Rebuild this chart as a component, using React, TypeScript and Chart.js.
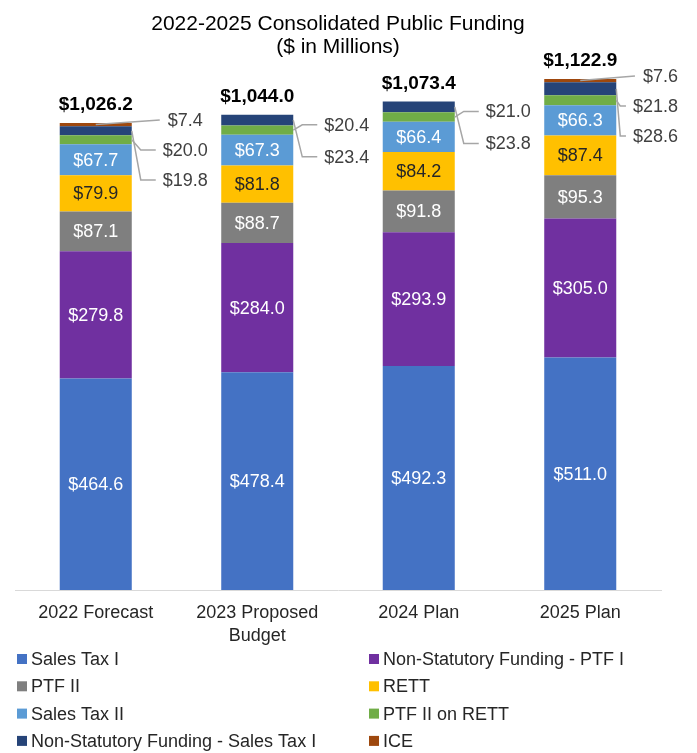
import React, { useEffect, useRef } from "react";
import { Chart, registerables } from "chart.js";

Chart.register(...registerables);

const categories: string[][] = [["2022 Forecast"], ["2023 Proposed", "Budget"], ["2024 Plan"], ["2025 Plan"]];
const seriesNames = [
  "Sales Tax I",
  "Non-Statutory Funding - PTF I",
  "PTF II",
  "RETT",
  "Sales Tax II",
  "PTF II on RETT",
  "Non-Statutory Funding - Sales Tax I",
  "ICE",
];
const seriesColors = ["#4472C4", "#7030A0", "#7F7F7F", "#FFC000", "#5B9BD5", "#70AD47", "#264478", "#9E480E"];
const salesTaxI = [464.6, 478.4, 492.3, 511.0];
const nonStatPTFI = [279.8, 284.0, 293.9, 305.0];
const ptfII = [87.1, 88.7, 91.8, 95.3];
const rett = [79.9, 81.8, 84.2, 87.4];
const salesTaxII = [67.7, 67.3, 66.4, 66.3];
const ptfIIonRETT = [20.0, 20.4, 21.0, 21.8];
const nonStatSalesTaxI = [19.8, 23.4, 23.8, 28.6];
const ice = [7.4, 0, 0, 7.6];
const totals = [1026.2, 1044.0, 1073.4, 1122.9];

const seriesValues = [salesTaxI, nonStatPTFI, ptfII, rett, salesTaxII, ptfIIonRETT, nonStatSalesTaxI, ice];
const insideLabelColors: Record<number, string> = { 0: "#ffffff", 1: "#ffffff", 2: "#ffffff", 3: "#262626", 4: "#ffffff" };
const outsideOrder = [7, 5, 6];

const FONT = "'Liberation Sans', Arial, sans-serif";
const CANVAS_W = 681;
const CANVAS_H = 745;

const labelPlugin = {
  id: "segLabels",
  afterDatasetsDraw(chart: any) {
    const ctx: CanvasRenderingContext2D = chart.ctx;
    const n = chart.data.labels.length;
    ctx.save();
    for (let i = 0; i < n; i++) {
      Object.keys(insideLabelColors).forEach((k) => {
        const d = Number(k);
        const el: any = chart.getDatasetMeta(d).data[i];
        const v = chart.data.datasets[d].data[i];
        if (!el || !v) return;
        ctx.font = `18px ${FONT}`;
        ctx.fillStyle = insideLabelColors[d];
        ctx.textAlign = "center";
        ctx.textBaseline = "middle";
        ctx.fillText("$" + Number(v).toFixed(1), el.x, (el.y + el.base) / 2 + 1);
      });
      let topY = Infinity;
      let cx = 0;
      let right = 0;
      chart.data.datasets.forEach((ds: any, d: number) => {
        const el: any = chart.getDatasetMeta(d).data[i];
        if (el && ds.data[i] > 0 && el.y < topY) {
          topY = el.y;
          cx = el.x;
          right = el.x + el.width / 2;
        }
      });
      ctx.font = `bold 19px ${FONT}`;
      ctx.fillStyle = "#000000";
      ctx.textAlign = "center";
      ctx.textBaseline = "middle";
      ctx.fillText("$" + totals[i].toLocaleString("en-US", { minimumFractionDigits: 1, maximumFractionDigits: 1 }), cx, topY - 18);

      const outs = outsideOrder.filter((d) => chart.data.datasets[d].data[i] > 0);
      const hasIce = chart.data.datasets[7].data[i] > 0;
      const y0 = hasIce ? topY - 3 : topY + 10;
      const step = hasIce ? 30 : 32;
      ctx.font = `18px ${FONT}`;
      outs.forEach((d, j) => {
        const el: any = chart.getDatasetMeta(d).data[i];
        const v = chart.data.datasets[d].data[i];
        const text = "$" + Number(v).toFixed(1);
        const w = ctx.measureText(text).width;
        const ly = y0 + j * step;
        let lx = right + 31 + (d === 7 ? 5 : 0);
        if (lx + w > CANVAS_W - 11) lx = CANVAS_W - 11 - w;
        const ay = (el.y + el.base) / 2;
        ctx.strokeStyle = "#A6A6A6";
        ctx.lineWidth = 1.5;
        ctx.beginPath();
        if (d === 7) {
          ctx.moveTo(el.x, ay);
          ctx.lineTo(lx - 8, ly);
        } else {
          const ax = right;
          const ex = Math.max(ax + 4, lx - 22);
          ctx.moveTo(ax, ay);
          ctx.lineTo(ex, ly);
          ctx.lineTo(Math.max(ex, lx - 7), ly);
        }
        ctx.stroke();
        ctx.fillStyle = "#404040";
        ctx.textAlign = "left";
        ctx.textBaseline = "middle";
        ctx.fillText(text, lx, ly + 1);
      });
    }
    ctx.restore();
  },
};

const legendPlugin = {
  id: "gridLegend",
  afterDraw(chart: any) {
    const ctx: CanvasRenderingContext2D = chart.ctx;
    ctx.save();
    ctx.font = `18px ${FONT}`;
    ctx.textBaseline = "middle";
    ctx.textAlign = "left";
    chart.data.datasets.forEach((ds: any, k: number) => {
      const col = k % 2;
      const row = Math.floor(k / 2);
      const x = col === 0 ? 9 : 361;
      const y = 651 + row * 27.3;
      ctx.fillStyle = ds.backgroundColor;
      ctx.fillRect(x, y - 5, 10, 10);
      ctx.fillStyle = "#262626";
      ctx.fillText(ds.label, x + 14, y + 1);
    });
    ctx.restore();
  },
};

export default function App() {
  const ref = useRef<HTMLCanvasElement | null>(null);
  useEffect(() => {
    document.body.style.margin = "0";
    if (!ref.current) return;
    const chart = new Chart(ref.current, {
      type: "bar",
      data: {
        labels: categories,
        datasets: seriesNames.map((name, k) => ({
          label: name,
          data: seriesValues[k],
          backgroundColor: seriesColors[k],
          borderWidth: 0,
          barPercentage: 0.446,
          categoryPercentage: 1,
        })),
      },
      options: {
        animation: false,
        responsive: false,
        maintainAspectRatio: false,
        layout: { padding: { left: 7, right: 28, top: 0, bottom: 105 } },
        plugins: {
          legend: { display: false },
          tooltip: { enabled: false },
          title: {
            display: true,
            text: ["2022-2025 Consolidated Public Funding", "($ in Millions)"],
            color: "#000000",
            font: { family: FONT, size: 21, weight: "normal", lineHeight: 1.12 },
            padding: { top: 4, bottom: 3 },
          },
        },
        scales: {
          x: {
            stacked: true,
            grid: { display: false, drawTicks: false },
            border: { display: true, color: "#D9D9D9", width: 1 },
            ticks: { color: "#262626", font: { family: FONT, size: 18, lineHeight: 1.25 }, padding: 12, maxRotation: 0 },
            afterFit: (s: any) => {
              s.height = 58;
            },
          },
          y: { stacked: true, display: false, min: 0, max: 1160 },
        },
      },
      plugins: [labelPlugin, legendPlugin],
    });
    return () => chart.destroy();
  }, []);
  return (
    <div style={{ padding: "8px 8px 0 8px", width: CANVAS_W, height: CANVAS_H }}>
      <canvas
        ref={ref}
        width={CANVAS_W}
        height={CANVAS_H}
        style={{ display: "block", width: CANVAS_W, height: CANVAS_H }}
      />
    </div>
  );
}
